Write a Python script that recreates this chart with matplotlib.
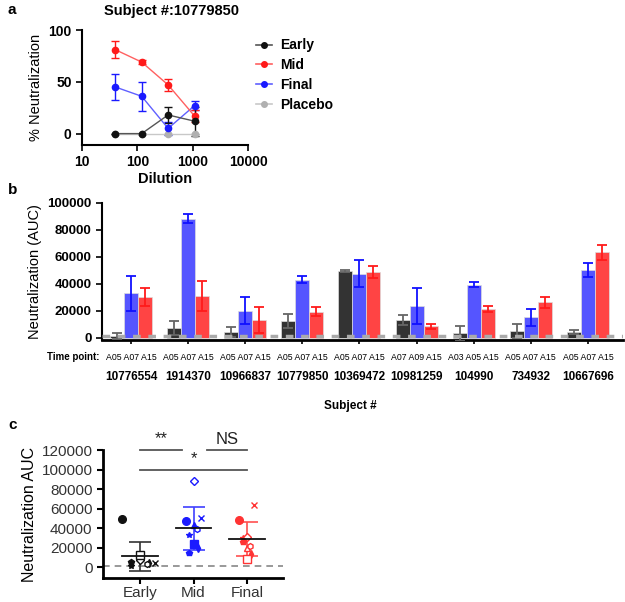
import numpy as np
import matplotlib
matplotlib.use("Agg")
import matplotlib.pyplot as plt
import matplotlib.transforms as mtransforms
from matplotlib.lines import Line2D

plt.rcParams['font.family'] = ['Liberation Sans', 'DejaVu Sans']

# ---- panel a data ----
dilution = [40, 120, 360, 1080]
early_a = [0, 0, 18, 12]
early_a_err = [0, 0, 8, 14]
mid_a = [81, 69, 47, 17]
mid_a_err = [8, 2, 6, 6]
final_a = [45, 36, 5, 27]
final_a_err = [13, 14, 6, 4]
placebo_a = [0, 0, 0, 0]
placebo_a_err = [0, 0, 0, 0]

# ---- panel b data ----
subjects = ['10776554', '1914370', '10966837', '10779850', '10369472',
            '10981259', '104990', '734932', '10667696']
time_points = ['A05 A07 A15', 'A05 A07 A15', 'A05 A07 A15', 'A05 A07 A15',
               'A05 A07 A15', 'A07 A09 A15', 'A03 A05 A15', 'A05 A07 A15',
               'A05 A07 A15']
early_auc = [1500, 7100, 3900, 12500, 49200, 13000, 3200, 5200, 4400]
early_err = [2200, 5400, 3700, 5200, 700, 3500, 5400, 5100, 1700]
mid_auc = [33000, 88300, 19900, 43000, 47500, 23600, 39400, 15000, 50400]
mid_err = [13000, 3000, 10000, 2800, 9800, 13500, 2000, 6000, 5200]
final_auc = [30300, 30800, 13300, 19400, 48700, 8400, 21400, 26300, 63200]
final_err = [6500, 11000, 9500, 3000, 4500, 1700, 2000, 4200, 5700]
cutoff = 1500

# ---- panel c ----
groups = ['Early', 'Mid', 'Final']
subj_markers = ['*', 'D', 'd', '^', 'o', 's', 'h', 'p', 'x']

fig = plt.figure(figsize=(6.25, 6.02), dpi=100)
W, H = 625.0, 602.0


def box(x0, y0, x1, y1):
    return [x0 / W, 1 - y1 / H, (x1 - x0) / W, (y1 - y0) / H]


# ================= panel a =================
ax = fig.add_axes(box(82, 30, 248, 145))
series = [('Early', early_a, early_a_err, '#111111', '#555555'),
          ('Mid', mid_a, mid_a_err, '#ff1a1a', '#ff6060'),
          ('Final', final_a, final_a_err, '#1a1aff', '#6060ff'),
          ('Placebo', placebo_a, placebo_a_err, '#b0b0b0', '#c8c8c8')]
handles = []
for name, vals, err, mc, lc in series[::-1]:
    ax.errorbar(dilution, vals, yerr=err, color=lc, ecolor=mc, lw=1.0,
                elinewidth=1.0, capsize=3, marker='o', ms=4.5, mfc=mc, mec=mc)
for name, vals, err, mc, lc in series:
    handles.append(Line2D([0], [0], color=lc, lw=1.2, marker='o', ms=4,
                          mfc=mc, mec=mc, label=name))
ax.set_xscale('log')
ax.set_xlim(10, 10000)
ax.set_ylim(-11, 100)
ax.set_yticks([0, 50, 100])
ax.set_xticks([10, 100, 1000, 10000])
ax.set_xticklabels(['10', '100', '1000', '10000'])
for s in ['top', 'right']:
    ax.spines[s].set_visible(False)
for s in ['left', 'bottom']:
    ax.spines[s].set_linewidth(1.5)
ax.tick_params(labelsize=10, width=1.2, length=4)
for t in ax.get_xticklabels() + ax.get_yticklabels():
    t.set_fontweight('bold')
ax.set_ylabel('% Neutralization', fontsize=10.5, labelpad=4)
ax.set_xlabel('Dilution', fontsize=10.5, fontweight='bold', labelpad=2)
ax.legend(handles=handles, loc='upper left', frameon=False,
          bbox_to_anchor=(243 / W, 1 - 26 / H), bbox_transform=fig.transFigure,
          prop={'weight': 'bold', 'size': 10}, handlelength=1.2,
          handletextpad=0.6, labelspacing=0.42)
fig.text(172 / W, 1 - 11 / H, 'Subject #:10779850', ha='center', va='center',
         fontsize=10.5, fontweight='bold')

# ================= panel b =================
axb = fig.add_axes(box(102, 202.7, 623, 339.5))
n = len(subjects)
centers = np.arange(n) * 4.08
bar_specs = [(early_auc, early_err, '#333333', '#666666', -1),
             (mid_auc, mid_err, '#5555ff', '#1010ff', 0),
             (final_auc, final_err, '#ff4444', '#ff1a1a', 1)]
for vals, err, fc, ec, off in bar_specs:
    axb.bar(centers + off, vals, width=1.0, color=fc, edgecolor='#dddddd',
            linewidth=0.5, zorder=2)
    axb.errorbar(centers + off, vals, yerr=err, fmt='none', ecolor=ec,
                 elinewidth=1.3, capsize=3.5, capthick=1.3, zorder=3)
axb.axhline(cutoff, color='#aaaaaa', lw=2.5, ls=(0, (2.2, 2.2)), zorder=4)
axb.set_xlim(-2.07, 35.14)
axb.set_ylim(-1300, 100000)
axb.set_yticks(np.arange(0, 100001, 20000))
axb.set_xticks(centers)
axb.set_xticklabels([])
for s in ['top', 'right']:
    axb.spines[s].set_visible(False)
axb.spines['left'].set_linewidth(1.5)
axb.spines['bottom'].set_linewidth(2)
axb.tick_params(axis='y', labelsize=9.5, width=1.2, length=4)
axb.tick_params(axis='x', width=1.2, length=3)
for t in axb.get_yticklabels():
    t.set_fontweight('bold')
axb.set_ylabel('Neutralization (AUC)', fontsize=10.5, labelpad=4)
trans = mtransforms.blended_transform_factory(axb.transData, axb.transAxes)
for c, tp, sj in zip(centers, time_points, subjects):
    axb.text(c, -0.13, tp, transform=trans, ha='center', va='center',
             fontsize=6.3)
    axb.text(c, -0.274, sj, transform=trans, ha='center', va='center',
             fontsize=8.5, fontweight='bold')
fig.text(73 / W, 1 - 357 / H, 'Time point:', ha='center', va='center',
         fontsize=7, fontweight='bold')
fig.text(350 / W, 1 - 406 / H, 'Subject #', ha='center', va='center',
         fontsize=8.5, fontweight='bold')

# ================= panel c =================
axc = fig.add_axes(box(103, 450, 283, 578))
offsets = [-0.08, 0.0, 0.08, 0.0, -0.15, 0.0, 0.06, -0.08, 0.13]
group_data = [early_auc, mid_auc, final_auc]
group_colors = ['#111111', '#1a1aff', '#ff3333']
err_colors = ['#333333', '#4040ff', '#ff5050']
filled = [[True, False, True, False, True, False, False, True, True],
          [True, False, True, True, True, True, False, True, True],
          [True, False, True, False, True, False, False, True, True]]
for gi, (vals, col) in enumerate(zip(group_data, group_colors)):
    spread = 2.2 if gi == 0 else 1.0
    for si, v in enumerate(vals):
        x = gi + offsets[si] * spread
        m = subj_markers[si]
        ms = 5.5 if m in ('o', 's') else 4.2
        if m == 'x' or filled[gi][si]:
            axc.plot(x, v, marker=m, ms=ms, color=col, mew=1.0, ls='none',
                     zorder=3)
        else:
            axc.plot(x, v, marker=m, ms=ms, mfc='white', mec=col, mew=1.0,
                     ls='none', zorder=3)
    mean = np.mean(vals)
    sd = np.std(vals, ddof=1)
    axc.errorbar([gi], [mean], yerr=[sd], fmt='none', ecolor=err_colors[gi],
                 elinewidth=1.2, capsize=8, capthick=1.2, zorder=2)
    axc.plot([gi - 0.33, gi + 0.33], [mean, mean], color='#111111', lw=1.3,
             zorder=4)
axc.axhline(cutoff, color='#888888', lw=1.2, ls=(0, (4, 3)), zorder=1)
axc.set_xlim(-0.69, 2.67)
axc.set_ylim(-11000, 120000)
axc.set_yticks(np.arange(0, 120001, 20000))
axc.set_xticks([0, 1, 2])
axc.set_xticklabels(groups)
for s in ['top', 'right']:
    axc.spines[s].set_visible(False)
axc.spines['left'].set_linewidth(2)
axc.spines['bottom'].set_linewidth(2)
axc.tick_params(labelsize=11, width=1.5, length=4, labelcolor='#333333')
axc.tick_params(axis='x', pad=1.5)
axc.set_ylabel('Neutralization AUC', fontsize=11.5, labelpad=3)
# significance bars
sig = [(0, 0.78, 120500, '**'), (1.25, 2.0, 120500, 'NS'),
       (0, 2.0, 100000, '*')]
for x0, x1, y, lab in sig:
    axc.plot([x0, x1], [y, y], color='#555555', lw=1.3, clip_on=False)
    axc.text((x0 + x1) / 2, y + 3000, lab, ha='center', va='bottom',
             fontsize=12, color='#222222', clip_on=False)

# panel letters
for lab, y in [('a', 10), ('b', 190), ('c', 425)]:
    fig.text(8 / W, 1 - y / H, lab, ha='left', va='center', fontsize=11,
             fontweight='bold')

fig.savefig('out.png', dpi=100)
